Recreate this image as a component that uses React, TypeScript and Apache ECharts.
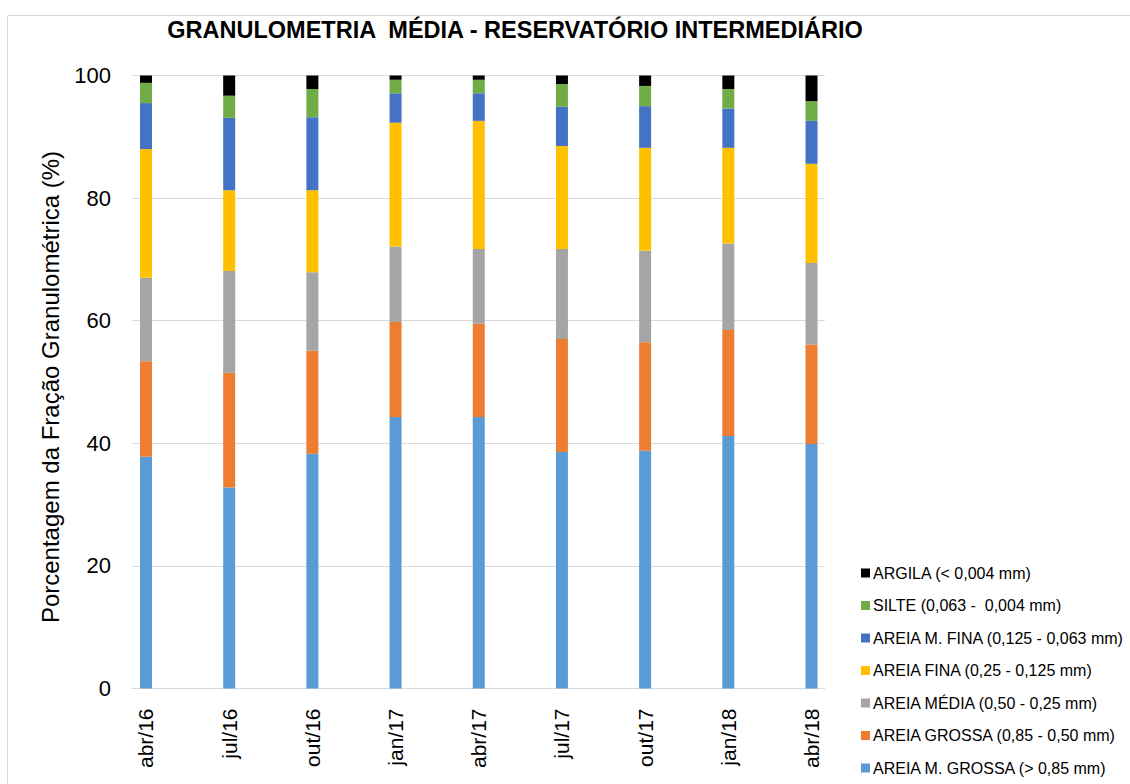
import React, { useEffect, useRef } from "react";
import * as echarts from "echarts";

const categories = ["abr/16", "jul/16", "out/16", "jan/17", "abr/17", "jul/17", "out/17", "jan/18", "abr/18"];

const seriesNames = [
  "AREIA M. GROSSA (> 0,85 mm)",
  "AREIA GROSSA (0,85 - 0,50 mm)",
  "AREIA MÉDIA (0,50 - 0,25 mm)",
  "AREIA FINA (0,25 - 0,125 mm)",
  "AREIA M. FINA (0,125 - 0,063 mm)",
  "SILTE (0,063 -  0,004 mm)",
  "ARGILA (< 0,004 mm)",
];

const areiaMGrossa = [37.8, 32.8, 38.3, 44.3, 44.3, 38.6, 38.8, 41.2, 39.9];
const areiaGrossa = [15.6, 18.7, 16.8, 15.5, 15.2, 18.4, 17.7, 17.3, 16.2];
const areiaMedia = [13.6, 16.6, 12.8, 12.3, 12.2, 14.7, 14.9, 14.1, 13.3];
const areiaFina = [21.0, 13.2, 13.4, 20.2, 20.9, 16.8, 16.8, 15.6, 16.2];
const areiaMFina = [7.5, 11.8, 11.9, 4.8, 4.5, 6.4, 6.8, 6.4, 7.0];
const silte = [3.3, 3.6, 4.6, 2.2, 2.2, 3.7, 3.3, 3.2, 3.2];
const argila = [1.2, 3.3, 2.2, 0.7, 0.7, 1.4, 1.7, 2.2, 4.2];

const seriesData = [areiaMGrossa, areiaGrossa, areiaMedia, areiaFina, areiaMFina, silte, argila];
const colors = ["#5B9BD5", "#ED7D31", "#A5A5A5", "#FFC000", "#4472C4", "#70AD47", "#000000"];

const yTicks = { min: 0, max: 100, interval: 20 };

const FONT = "'Liberation Sans', Arial, sans-serif";

export default function App() {
  const ref = useRef<HTMLDivElement>(null);
  useEffect(() => {
    if (!ref.current) return;
    const chart = echarts.init(ref.current, undefined, { renderer: "svg" });
    const plotTop = 75.5;
    const plotHeight = 613;
    chart.setOption({
      animation: false,
      backgroundColor: "#ffffff",
      textStyle: { fontFamily: FONT },
      title: {
        text: "GRANULOMETRIA  MÉDIA - RESERVATÓRIO INTERMEDIÁRIO",
        left: 510,
        top: 13,
        textAlign: "center",
        textStyle: { fontFamily: FONT, fontSize: 23.5, fontWeight: "bold", color: "#000" },
      },
      graphic: [
        {
          type: "rect",
          shape: { x: 7.5, y: 15.5, width: 1140, height: 800 },
          style: { fill: "none", stroke: "#d9d9d9", lineWidth: 1 },
          silent: true,
          z: -1,
        },
      ],
      legend: {
        orient: "vertical",
        left: 861,
        top: 565,
        padding: 0,
        itemWidth: 9,
        itemHeight: 9,
        itemGap: 16.5,
        icon: "rect",
        data: [...seriesNames].reverse(),
        textStyle: { fontFamily: FONT, fontSize: 16, color: "#000", padding: [0, 0, 0, -2] },
      },
      grid: [
        { left: 132, width: 693, top: plotTop, height: plotHeight },
        { left: 146 - 41.6, width: 83.19 * 9, top: plotTop, height: plotHeight },
      ],
      xAxis: [
        {
          gridIndex: 0,
          type: "category",
          data: categories,
          axisLine: { show: true, lineStyle: { color: "#d9d9d9", width: 1 } },
          axisTick: { show: false },
          axisLabel: { show: false },
        },
        {
          gridIndex: 1,
          type: "category",
          data: categories,
          axisLine: { show: false },
          axisTick: { show: false },
          axisLabel: { rotate: 90, fontSize: 21, color: "#000", margin: 20, fontFamily: FONT },
        },
      ],
      yAxis: [
        {
          gridIndex: 0,
          type: "value",
          min: yTicks.min,
          max: yTicks.max,
          interval: yTicks.interval,
          name: "Porcentagem da Fração Granulométrica (%)",
          nameLocation: "middle",
          nameGap: 70,
          nameTextStyle: { fontSize: 24, color: "#000", fontFamily: FONT, padding: [0, 10, 0, 0] },
          axisLine: { show: false },
          axisTick: { show: false },
          axisLabel: { fontSize: 22, color: "#000", margin: 21, fontFamily: FONT },
          splitLine: { show: true, lineStyle: { color: "#d9d9d9", width: 1 } },
        },
        {
          gridIndex: 1,
          type: "value",
          min: yTicks.min,
          max: yTicks.max,
          show: false,
          splitLine: { show: false },
        },
      ],
      series: seriesNames.map((name, i) => ({
        name,
        type: "bar",
        stack: "total",
        xAxisIndex: 1,
        yAxisIndex: 1,
        barWidth: 12,
        data: seriesData[i],
        itemStyle: { color: colors[i] },
      })),
    });
    return () => chart.dispose();
  }, []);
  return <div ref={ref} style={{ position: "absolute", left: 0, top: 0, width: 1130, height: 784 }} />;
}
